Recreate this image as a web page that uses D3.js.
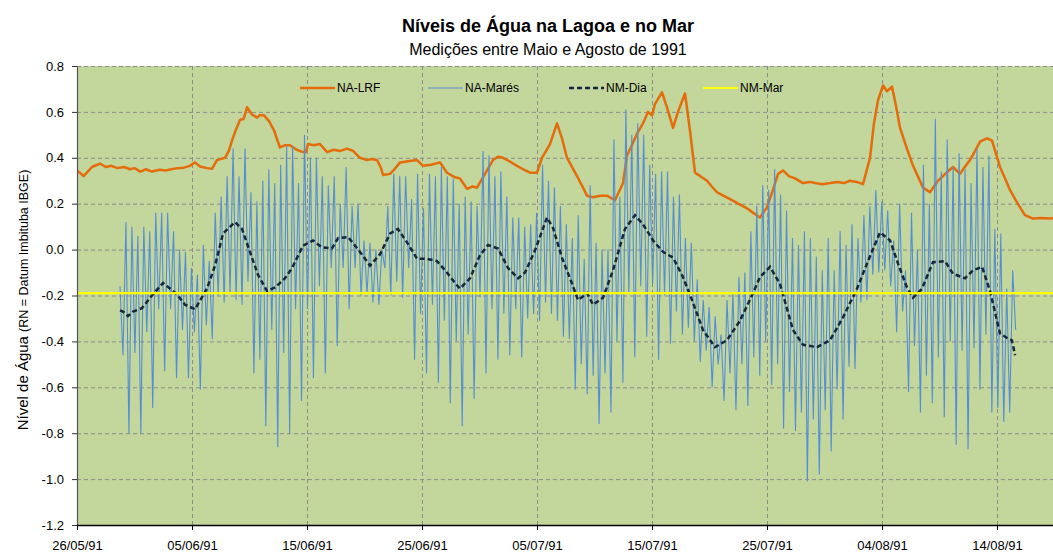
<!DOCTYPE html>
<html>
<head>
<meta charset="utf-8">
<script src="https://cdn.jsdelivr.net/npm/d3@7/dist/d3.min.js"></script>
<style>
  html, body { margin: 0; padding: 0; background: #fff; }
  svg { display: block; }
</style>
</head>
<body>
<svg id="chart"></svg>
<script>
/* ════════════════════════════════════════════════════════
   Níveis de Água na Lagoa e no Mar — D3 v7 time series
   Four series: lagoon level, tide gauge, daily mean, mean sea level
   ════════════════════════════════════════════════════════ */

/* ── Data ── (day = days since 26/05/91 00:00) */
const START_DATE = '1991-05-26';
const END_DATE   = '1991-08-19';

const xTickDates = ['1991-05-26', '1991-06-05', '1991-06-15', '1991-06-25', '1991-07-05',
                    '1991-07-15', '1991-07-25', '1991-08-04', '1991-08-14'];
const yTicks = [-1.2, -1.0, -0.8, -0.6, -0.4, -0.2, 0.0, 0.2, 0.4, 0.6, 0.8];

const seriesNames = ['NA-LRF', 'NA-Marés', 'NM-Dia', 'NM-Mar'];

// NA-LRF: lagoon level [day, m]
const naLrf = [
  [0, 0.345], [0.58, 0.32], [1.3, 0.36], [2.0, 0.375], [2.5, 0.36], [3.0, 0.365], [3.5, 0.355],
  [4.1, 0.36], [4.6, 0.35], [5.0, 0.355], [5.5, 0.34], [6.0, 0.35], [6.5, 0.34], [7.2, 0.348],
  [7.7, 0.345], [8.2, 0.35], [8.7, 0.355], [9.3, 0.357], [9.8, 0.365], [10.26, 0.38], [10.7, 0.362],
  [11.3, 0.355], [11.74, 0.352], [12.17, 0.39], [12.87, 0.40], [13.2, 0.43], [13.48, 0.475],
  [13.8, 0.52], [14.17, 0.565], [14.5, 0.57], [14.78, 0.62], [15.2, 0.59], [15.65, 0.575],
  [15.9, 0.585], [16.26, 0.585], [16.7, 0.56], [17.13, 0.52], [17.4, 0.48], [17.65, 0.445],
  [18.1, 0.455], [18.52, 0.455], [19.1, 0.435], [19.65, 0.425], [19.9, 0.425], [20.09, 0.46],
  [20.6, 0.455], [21.13, 0.46], [21.74, 0.425], [22.3, 0.435], [22.9, 0.43], [23.48, 0.44],
  [24.0, 0.43], [24.61, 0.40], [25.22, 0.39], [25.6, 0.395], [26.09, 0.39], [26.4, 0.36],
  [26.61, 0.325], [27.22, 0.33], [27.6, 0.35], [28.09, 0.38], [28.8, 0.385], [29.57, 0.39],
  [30.09, 0.365], [30.8, 0.37], [31.57, 0.38], [32.17, 0.335], [32.87, 0.315], [33.3, 0.31],
  [33.91, 0.265], [34.4, 0.275], [34.78, 0.27], [35.48, 0.33], [36.17, 0.39], [36.6, 0.405],
  [37.04, 0.40], [37.6, 0.385], [38.26, 0.365], [38.8, 0.35], [39.39, 0.335], [40.0, 0.335],
  [40.43, 0.40], [41.13, 0.46], [41.74, 0.55], [42.2, 0.48], [42.61, 0.40], [43.48, 0.32],
  [44.0, 0.27], [44.35, 0.235], [44.87, 0.228], [45.5, 0.235], [46.09, 0.235], [46.78, 0.215],
  [47.2, 0.26], [47.48, 0.29], [47.83, 0.41], [48.3, 0.46], [48.7, 0.505], [49.22, 0.55],
  [49.65, 0.60], [50.0, 0.585], [50.26, 0.635], [50.87, 0.685], [51.3, 0.62], [51.83, 0.53],
  [52.26, 0.60], [52.87, 0.68], [53.3, 0.52], [53.74, 0.335], [54.2, 0.32], [54.78, 0.30],
  [55.2, 0.275], [55.65, 0.25], [56.2, 0.235], [56.78, 0.22], [57.5, 0.20], [58.26, 0.18],
  [58.8, 0.16], [59.39, 0.14], [60.0, 0.185], [60.52, 0.26], [60.96, 0.33], [61.39, 0.345],
  [61.9, 0.32], [62.43, 0.31], [63.13, 0.29], [63.7, 0.295], [64.2, 0.29], [64.8, 0.285],
  [65.5, 0.29], [66.1, 0.295], [66.7, 0.29], [67.2, 0.30], [67.8, 0.295], [68.35, 0.285],
  [68.96, 0.40], [69.3, 0.55], [69.65, 0.65], [70.09, 0.715], [70.43, 0.69], [70.87, 0.71],
  [71.2, 0.63], [71.57, 0.53], [72.1, 0.45], [72.7, 0.365], [73.57, 0.27], [74.17, 0.25],
  [74.87, 0.30], [75.5, 0.33], [76.17, 0.36], [76.78, 0.33], [77.2, 0.36], [77.65, 0.39],
  [78.1, 0.43], [78.52, 0.47], [79.13, 0.485], [79.57, 0.475], [80.26, 0.36], [80.7, 0.31],
  [81.13, 0.26], [81.8, 0.20], [82.43, 0.15], [83.13, 0.135], [83.8, 0.138], [84.61, 0.135],
  [85.13, 0.14]
];

// NA-Marés: tide gauge, successive high/low waters (m)
const TIDE_START      = '1991-05-29T17:45';
const TIDE_STEP_HOURS = 6.21;
const naMares = [
  -0.16, -0.46, 0.12, -0.80, 0.10, -0.45, 0.06, -0.80, 0.10, -0.36,
  0.08, -0.69, 0.16, -0.26, 0.16, -0.53, 0.16, -0.26, 0.08, -0.56,
  0.00, -0.35, -0.01, -0.56, -0.08, -0.36, -0.11, -0.61, 0.02, -0.33,
  -0.05, -0.39, 0.16, -0.20, 0.23, -0.23, 0.32, -0.19, 0.44, -0.22,
  0.32, -0.24, 0.44, -0.14, 0.25, -0.54, 0.21, -0.48, 0.30, -0.77,
  0.35, -0.35, 0.29, -0.86, 0.37, -0.45,
  0.45, -0.80, 0.45, -0.26, 0.29, -0.66, 0.50, -0.26, 0.40, -0.56,
  0.40, -0.16, 0.32, -0.54, 0.28, -0.08, 0.32, -0.42, 0.20, -0.08,
  0.36, -0.26, 0.19, -0.08, 0.20, -0.20, 0.04, -0.19, 0.03, -0.23,
  0.00, -0.24, 0.00, -0.08, 0.19, -0.20, 0.33, -0.14, 0.32, -0.21,
  0.32, -0.08, 0.22, -0.48, 0.33, -0.28, 0.18, -0.54, 0.33, -0.24,
  0.32, -0.58, 0.36, -0.31, 0.32, -0.67, 0.31,
  -0.40, 0.20, -0.77, 0.23, -0.37, 0.21, -0.65, 0.19, -0.21, 0.43,
  -0.54, 0.41, -0.26, 0.32, -0.48, 0.34, -0.28, 0.23, -0.46, 0.14,
  -0.26, 0.14, -0.47, 0.10, -0.30, 0.11, -0.28, 0.16, -0.31, 0.37,
  -0.23, 0.30, -0.28, 0.27, -0.31, 0.19, -0.38, 0.11, -0.39, 0.05,
  -0.61, 0.15, -0.50, -0.04, -0.63, 0.28, -0.55, 0.03, -0.76, 0.00,
  -0.54, 0.00, -0.71, 0.48, -0.40, 0.23, -0.58,
  0.61, -0.19, 0.50, -0.47, 0.55, -0.16, 0.50, -0.38, 0.37, -0.15,
  0.33, -0.48, 0.34, -0.20, 0.34, -0.41, 0.23, -0.27, 0.24, -0.37,
  0.05, -0.34, 0.03, -0.40, -0.13, -0.49, -0.22, -0.44, -0.25, -0.60,
  -0.29, -0.50, -0.37, -0.66, -0.22, -0.54, -0.19, -0.70, -0.12, -0.50,
  -0.10, -0.68, 0.08, -0.47, 0.19, -0.55, 0.28, -0.40, 0.26, -0.59,
  0.35, -0.50, 0.24, -0.78, 0.17, -0.62, 0.05,
  -0.79, 0.02, -0.71, 0.08, -1.01, 0.05, -0.74, -0.03, -0.98, -0.09,
  -0.70, 0.05, -0.88, -0.09, -0.61, 0.08, -0.74, 0.02, -0.51, 0.11,
  -0.52, 0.05, -0.23, 0.15, -0.22, 0.19, -0.11, 0.26, -0.10, 0.21,
  -0.09, 0.17, -0.16, 0.04, -0.36, 0.20, -0.27, -0.09, -0.62, 0.16,
  -0.42, 0.00, -0.71, 0.37, -0.55, 0.20, -0.67, 0.57, -0.47, 0.34,
  -0.73, 0.48, -0.40, 0.36, -0.85, 0.42, -0.44,
  0.35, -0.87, 0.29, -0.43, 0.44, -0.61, 0.36, -0.37, 0.41, -0.71,
  0.09, -0.69, 0.07, -0.75, -0.17, -0.71, -0.09, -0.35
];

// NM-Dia: daily mean sea level [day, m]
const nmDia = [
  [3.74, -0.265], [4.0, -0.27], [4.43, -0.29], [4.87, -0.27], [5.65, -0.255], [6.52, -0.20],
  [7.48, -0.145], [8.70, -0.195], [9.39, -0.24], [10.26, -0.26], [11.30, -0.17], [12.0, -0.07],
  [12.70, 0.07], [13.74, 0.12], [14.35, 0.09], [15.04, -0.01], [15.74, -0.11], [16.52, -0.18],
  [17.22, -0.165], [18.09, -0.125], [18.70, -0.08], [19.65, 0.017], [20.52, 0.04], [21.30, 0.01],
  [22.17, 0.005], [22.70, 0.05], [23.57, 0.055], [24.61, -0.01], [25.48, -0.07], [26.35, -0.02],
  [27.22, 0.07], [27.91, 0.09], [28.78, 0.025], [29.57, -0.04], [30.43, -0.04], [31.30, -0.05],
  [32.17, -0.10], [32.87, -0.145], [33.30, -0.17], [34.17, -0.125], [35.04, -0.025], [35.74, 0.02],
  [36.61, 0.005], [37.48, -0.08], [38.35, -0.125], [38.96, -0.10], [39.83, -0.003], [40.87, 0.14],
  [41.39, 0.095], [42.17, -0.035], [43.04, -0.147], [43.57, -0.22], [44.35, -0.19], [44.87, -0.24],
  [45.74, -0.21], [46.61, -0.09], [47.65, 0.09], [48.52, 0.15], [49.22, 0.11], [50.09, 0.04],
  [50.96, -0.01], [51.83, -0.035], [52.70, -0.12], [53.48, -0.22], [54.43, -0.35], [55.48, -0.425],
  [56.52, -0.395], [57.65, -0.31], [58.78, -0.19], [59.39, -0.12], [60.26, -0.075], [61.13, -0.15],
  [62.26, -0.35], [63.13, -0.415], [64.35, -0.425], [65.48, -0.395], [66.61, -0.295], [67.83, -0.17],
  [68.70, -0.06], [69.83, 0.075], [70.70, 0.04], [71.39, -0.06], [72.17, -0.165], [72.70, -0.21],
  [73.48, -0.17], [74.43, -0.055], [75.48, -0.05], [76.17, -0.105], [77.22, -0.125], [77.91, -0.09],
  [78.70, -0.075], [79.39, -0.18], [80.26, -0.365], [80.87, -0.385], [81.30, -0.395], [81.57, -0.46]
];

// NM-Mar: mean sea level for the period (m)
const nmMar = -0.19;

/* ── Layout ── */
const W = 1053, H = 554;
const PLOT = { left: 77, top: 66, right: 1054.5, bottom: 525 };
const FONT = '"Liberation Sans", Arial, Helvetica, sans-serif';
const COLOR_LRF   = '#E46C0A';
const COLOR_MARES = '#558ED5';
const COLOR_DIA   = '#17263C';
const COLOR_MAR   = '#FFFF00';
const PLOT_BG     = '#C3D69B';
const GRID        = '#8C8C8C';
const LEGEND_X    = [300, 428, 569, 703];

const DAY_MS = 864e5;
const t0 = new Date(START_DATE + 'T00:00Z');
const dayToDate = d => new Date(t0.getTime() + d * DAY_MS);
const tideStart = new Date(TIDE_START + 'Z');

const svg = d3.select('#chart')
  .attr('width', W)
  .attr('height', H)
  .attr('viewBox', `0 0 ${W} ${H}`)
  .style('font-family', FONT);

/* ── Scales ── */
const x = d3.scaleUtc()
  .domain([t0, new Date(END_DATE + 'T00:00Z')])
  .range([PLOT.left, PLOT.right]);

const y = d3.scaleLinear()
  .domain([-1.2, 0.8])
  .range([PLOT.bottom, PLOT.top]);

const xTicks = xTickDates.map(s => new Date(s + 'T00:00Z'));
const fmtDate = d3.utcFormat('%d/%m/%y');

/* ── Plot area ── */
svg.append('defs').append('clipPath').attr('id', 'plotClip')
  .append('rect')
  .attr('x', PLOT.left).attr('y', PLOT.top - 2)
  .attr('width', W - PLOT.left).attr('height', PLOT.bottom - PLOT.top + 2);

svg.append('rect')
  .attr('x', PLOT.left).attr('y', PLOT.top)
  .attr('width', W - PLOT.left).attr('height', PLOT.bottom - PLOT.top)
  .attr('fill', PLOT_BG);

/* ── Grid lines ── */
svg.append('g')
  .attr('transform', `translate(0,${PLOT.bottom})`)
  .call(d3.axisBottom(x).tickValues(xTicks.slice(1)).tickSize(-(PLOT.bottom - PLOT.top)).tickFormat(''))
  .call(ax => ax.select('.domain').remove())
  .call(ax => ax.selectAll('.tick line')
    .attr('stroke', GRID).attr('stroke-width', 1).attr('stroke-dasharray', '4,3'));

svg.append('g')
  .attr('transform', `translate(${PLOT.left},0)`)
  .call(d3.axisLeft(y).tickValues(yTicks.slice(1)).tickSize(-(W - PLOT.left)).tickFormat(''))
  .call(ax => ax.select('.domain').remove())
  .call(ax => ax.selectAll('.tick line')
    .attr('stroke', GRID).attr('stroke-width', 1).attr('stroke-dasharray', '4,3'));

/* ── Series ── */
const plot = svg.append('g').attr('clip-path', 'url(#plotClip)');

const lineDay = d3.line()
  .x(d => x(dayToDate(d[0])))
  .y(d => y(d[1]));

plot.append('path')
  .datum(naLrf)
  .attr('d', lineDay)
  .attr('fill', 'none')
  .attr('stroke', COLOR_LRF)
  .attr('stroke-width', 2.5)
  .attr('stroke-linejoin', 'round');

const tideLine = d3.line()
  .x((d, i) => x(new Date(tideStart.getTime() + i * TIDE_STEP_HOURS * 3600e3)))
  .y(d => y(d));

plot.append('path')
  .datum(naMares)
  .attr('d', tideLine)
  .attr('fill', 'none')
  .attr('stroke', COLOR_MARES)
  .attr('stroke-width', 1.1);

plot.append('path')
  .datum(nmDia)
  .attr('d', lineDay)
  .attr('fill', 'none')
  .attr('stroke', COLOR_DIA)
  .attr('stroke-width', 2.5)
  .attr('stroke-dasharray', '5,3');

plot.append('line')
  .attr('x1', x.range()[0]).attr('x2', x.range()[1])
  .attr('y1', y(nmMar)).attr('y2', y(nmMar))
  .attr('stroke', COLOR_MAR)
  .attr('stroke-width', 2.2);

/* ── Axes ── */
svg.append('g')
  .attr('transform', `translate(${PLOT.left},0)`)
  .call(d3.axisLeft(y).tickValues(yTicks).tickSizeInner(5).tickSizeOuter(0).tickPadding(8)
    .tickFormat(d => d.toFixed(1)))
  .call(ax => ax.select('.domain').attr('stroke', '#555').attr('stroke-width', 1.2))
  .call(ax => ax.selectAll('.tick line').attr('stroke', '#333'))
  .call(ax => ax.selectAll('.tick text')
    .attr('fill', '#000').attr('font-size', 13).attr('font-family', FONT));

svg.append('g')
  .attr('transform', `translate(0,${PLOT.bottom})`)
  .call(d3.axisBottom(x).tickValues(xTicks).tickSizeInner(5).tickSizeOuter(0).tickPadding(11)
    .tickFormat(fmtDate))
  .call(ax => ax.select('.domain').attr('stroke', '#000').attr('stroke-width', 1.5))
  .call(ax => ax.selectAll('.tick line').attr('stroke', '#000'))
  .call(ax => ax.selectAll('.tick text')
    .attr('fill', '#000').attr('font-size', 13).attr('font-family', FONT));

/* ── Titles ── */
svg.append('text')
  .attr('x', 548).attr('y', 32)
  .attr('text-anchor', 'middle')
  .attr('font-size', 18).attr('font-weight', 'bold')
  .text('Níveis de Água na Lagoa e no Mar');

svg.append('text')
  .attr('x', 548).attr('y', 55)
  .attr('text-anchor', 'middle')
  .attr('font-size', 16)
  .text('Medições entre Maio e Agosto de 1991');

const yTitle = svg.append('text')
  .attr('transform', 'translate(28,300) rotate(-90)')
  .attr('text-anchor', 'middle');
yTitle.append('tspan').attr('font-size', 15).text('Nível de Água ');
yTitle.append('tspan').attr('font-size', 12.5).text('(RN =  Datum Imbituba IBGE)');

/* ── Legend ── */
const legendStyles = [
  { color: COLOR_LRF,   width: 2.5, dash: null },
  { color: COLOR_MARES, width: 1.1, dash: null },
  { color: COLOR_DIA,   width: 2.5, dash: '5,3' },
  { color: COLOR_MAR,   width: 2.2, dash: null }
];

const legend = svg.append('g').attr('transform', 'translate(0,88)');
seriesNames.forEach((name, i) => {
  const gx = LEGEND_X[i];
  legend.append('line')
    .attr('x1', gx).attr('x2', gx + 35)
    .attr('stroke', legendStyles[i].color)
    .attr('stroke-width', legendStyles[i].width)
    .attr('stroke-dasharray', legendStyles[i].dash);
  legend.append('text')
    .attr('x', gx + 37)
    .attr('dy', '0.35em')
    .attr('font-size', 12)
    .text(name);
});
</script>
</body>
</html>
